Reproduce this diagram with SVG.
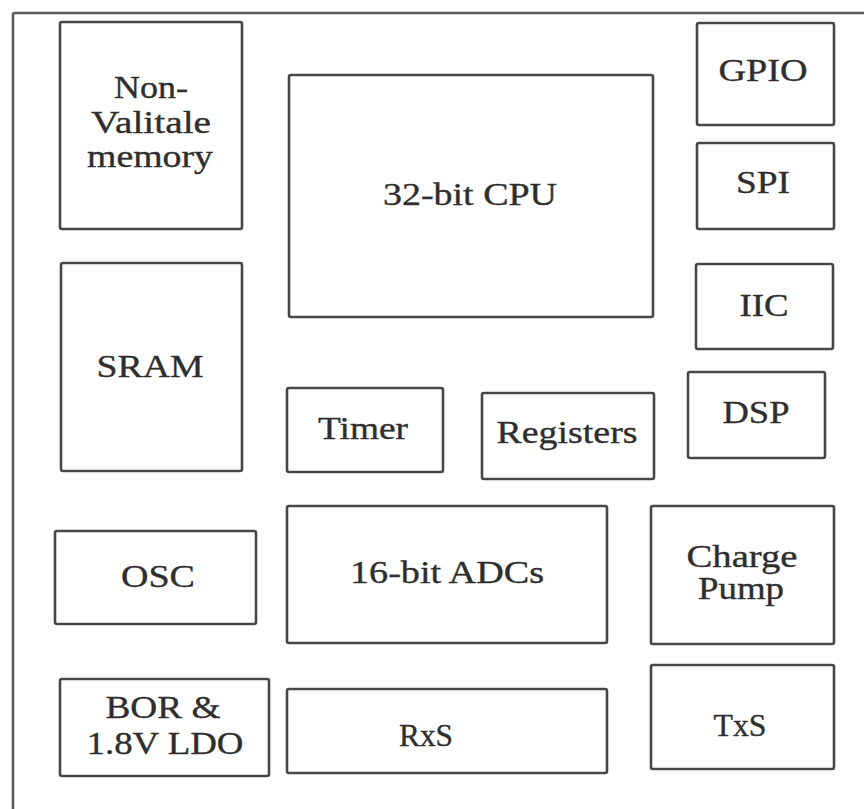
<svg xmlns="http://www.w3.org/2000/svg" width="864" height="809" viewBox="0 0 864 809">
<style>
.box{fill:#fff;stroke:#474747;stroke-width:2.6}
.frame{fill:none;stroke:#5a5a5a;stroke-width:2.6}
text{font-family:"Liberation Serif","Times New Roman",serif;font-size:31px;fill:#2e2e2e;stroke:#2e2e2e;stroke-width:0.35;text-anchor:middle}
</style>
<rect width="864" height="809" fill="#fff"/>
<rect class="frame" x="13" y="13" width="900" height="900" rx="2"/>
<g id="nvm"><rect class="box" x="60" y="22" width="182" height="207" rx="2"/>
<text x="151" y="98" textLength="74" lengthAdjust="spacingAndGlyphs">Non-</text>
<text x="151" y="133" textLength="120" lengthAdjust="spacingAndGlyphs">Valitale</text>
<text x="150" y="167" textLength="126" lengthAdjust="spacingAndGlyphs">memory</text></g>
<g id="cpu"><rect class="box" x="289" y="75" width="364" height="242" rx="2"/>
<text x="470" y="205" textLength="174" lengthAdjust="spacingAndGlyphs">32-bit CPU</text></g>
<g id="gpio"><rect class="box" x="697" y="23" width="137" height="102" rx="2"/>
<text x="763" y="81" textLength="89" lengthAdjust="spacingAndGlyphs">GPIO</text></g>
<g id="spi"><rect class="box" x="697" y="143" width="137" height="86" rx="2"/>
<text x="763" y="193" textLength="54" lengthAdjust="spacingAndGlyphs">SPI</text></g>
<g id="iic"><rect class="box" x="696" y="264" width="137" height="85" rx="2"/>
<text x="764" y="316" textLength="49" lengthAdjust="spacingAndGlyphs">IIC</text></g>
<g id="dsp"><rect class="box" x="688" y="372" width="137" height="86" rx="2"/>
<text x="756" y="423" textLength="67" lengthAdjust="spacingAndGlyphs">DSP</text></g>
<g id="sram"><rect class="box" x="61" y="263" width="181" height="208" rx="2"/>
<text x="150" y="377" textLength="107" lengthAdjust="spacingAndGlyphs">SRAM</text></g>
<g id="timer"><rect class="box" x="287" y="388" width="156" height="84" rx="2"/>
<text x="363" y="439" textLength="90" lengthAdjust="spacingAndGlyphs">Timer</text></g>
<g id="registers"><rect class="box" x="482" y="393" width="172" height="86" rx="2"/>
<text x="567" y="443" textLength="141" lengthAdjust="spacingAndGlyphs">Registers</text></g>
<g id="osc"><rect class="box" x="55" y="531" width="201" height="93" rx="2"/>
<text x="158" y="587" textLength="74" lengthAdjust="spacingAndGlyphs">OSC</text></g>
<g id="adc"><rect class="box" x="287" y="506" width="320" height="137" rx="2"/>
<text x="447" y="583" textLength="194" lengthAdjust="spacingAndGlyphs">16-bit ADCs</text></g>
<g id="chargepump"><rect class="box" x="651" y="506" width="183" height="138" rx="2"/>
<text x="742" y="567" textLength="111" lengthAdjust="spacingAndGlyphs">Charge</text>
<text x="741" y="599" textLength="86" lengthAdjust="spacingAndGlyphs">Pump</text></g>
<g id="bor"><rect class="box" x="60" y="679" width="209" height="97" rx="2"/>
<text x="163" y="718" textLength="115" lengthAdjust="spacingAndGlyphs">BOR &amp;</text>
<text x="165" y="754" textLength="157" lengthAdjust="spacingAndGlyphs">1.8V LDO</text></g>
<g id="rxs"><rect class="box" x="287" y="689" width="320" height="84" rx="2"/>
<text x="426" y="746" textLength="54" lengthAdjust="spacingAndGlyphs">RxS</text></g>
<g id="txs"><rect class="box" x="651" y="665" width="183" height="104" rx="2"/>
<text x="740" y="736" textLength="53" lengthAdjust="spacingAndGlyphs">TxS</text></g>
<g id="connectors"></g>
</svg>
